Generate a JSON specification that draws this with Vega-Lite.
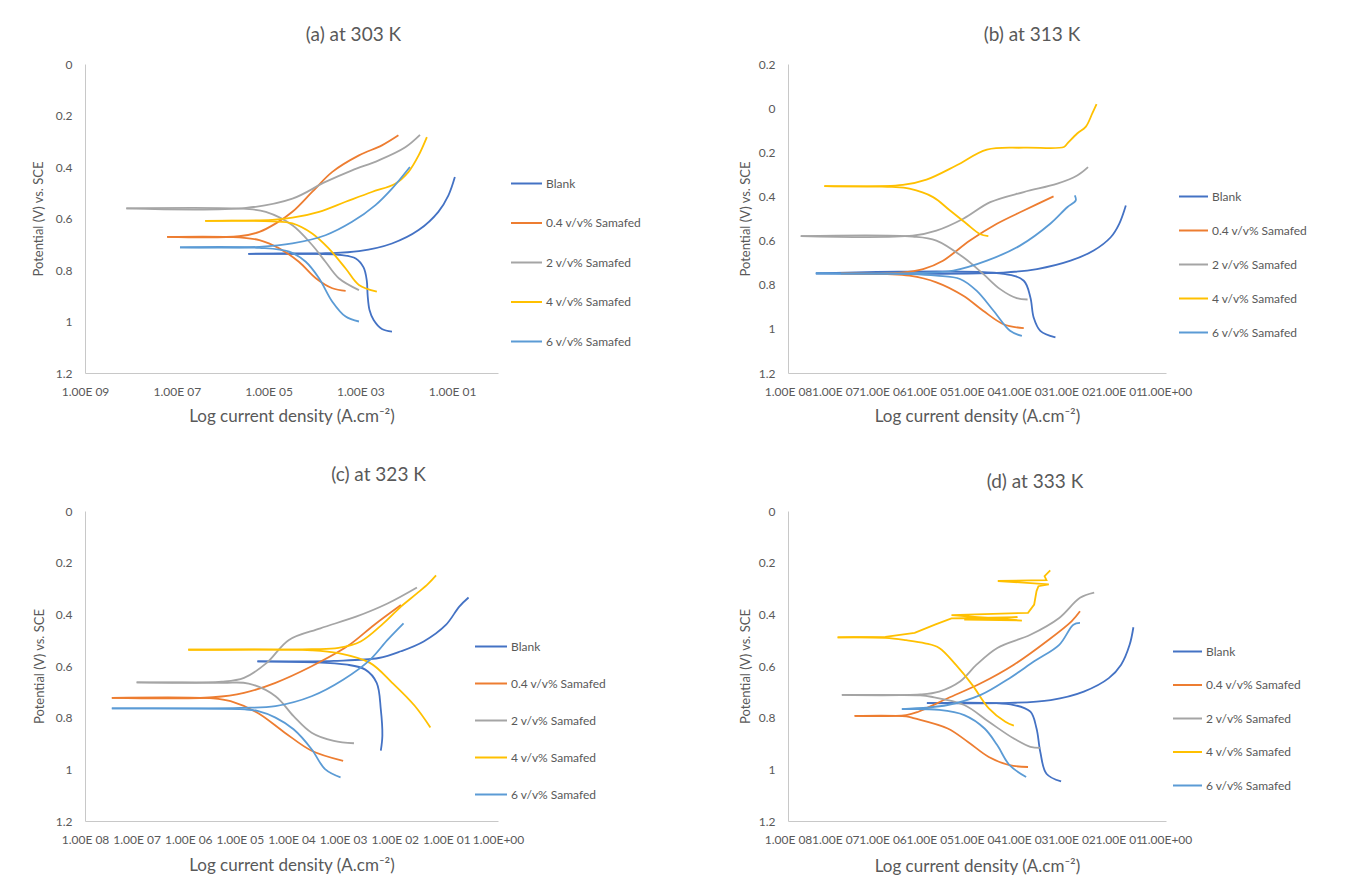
{
"$schema": "https://vega.github.io/schema/vega-lite/v6.json",
"background": "white",
"padding": {"left": 32, "top": 26, "right": 5, "bottom": 5},
"data": {"values": [
{"p":"a","s":"Blank","b":"c","x":-5.44,"y":-0.737},{"p":"a","s":"Blank","b":"c","x":-3.40,"y":-0.742},{"p":"a","s":"Blank","b":"c","x":-3.10,"y":-0.755},{"p":"a","s":"Blank","b":"c","x":-2.93,"y":-0.790},{"p":"a","s":"Blank","b":"c","x":-2.86,"y":-0.840},{"p":"a","s":"Blank","b":"c","x":-2.84,"y":-0.900},{"p":"a","s":"Blank","b":"c","x":-2.80,"y":-0.955},{"p":"a","s":"Blank","b":"c","x":-2.71,"y":-0.994},{"p":"a","s":"Blank","b":"c","x":-2.53,"y":-1.029},{"p":"a","s":"Blank","b":"c","x":-2.31,"y":-1.039},
{"p":"a","s":"Blank","b":"a","x":-5.44,"y":-0.737},{"p":"a","s":"Blank","b":"a","x":-3.76,"y":-0.735},{"p":"a","s":"Blank","b":"a","x":-3.03,"y":-0.727},{"p":"a","s":"Blank","b":"a","x":-2.31,"y":-0.697},{"p":"a","s":"Blank","b":"a","x":-1.73,"y":-0.645},{"p":"a","s":"Blank","b":"a","x":-1.30,"y":-0.574},{"p":"a","s":"Blank","b":"a","x":-1.08,"y":-0.510},{"p":"a","s":"Blank","b":"a","x":-0.94,"y":-0.439},
{"p":"a","s":"0.4 v/v% Samafed","b":"c","x":-7.21,"y":-0.671},{"p":"a","s":"0.4 v/v% Samafed","b":"c","x":-5.64,"y":-0.673},{"p":"a","s":"0.4 v/v% Samafed","b":"c","x":-5.20,"y":-0.684},{"p":"a","s":"0.4 v/v% Samafed","b":"c","x":-4.77,"y":-0.716},{"p":"a","s":"0.4 v/v% Samafed","b":"c","x":-4.34,"y":-0.768},{"p":"a","s":"0.4 v/v% Samafed","b":"c","x":-3.97,"y":-0.832},{"p":"a","s":"0.4 v/v% Samafed","b":"c","x":-3.61,"y":-0.871},{"p":"a","s":"0.4 v/v% Samafed","b":"c","x":-3.32,"y":-0.881},
{"p":"a","s":"0.4 v/v% Samafed","b":"a","x":-7.21,"y":-0.671},{"p":"a","s":"0.4 v/v% Samafed","b":"a","x":-5.64,"y":-0.669},{"p":"a","s":"0.4 v/v% Samafed","b":"a","x":-5.20,"y":-0.652},{"p":"a","s":"0.4 v/v% Samafed","b":"a","x":-4.84,"y":-0.619},{"p":"a","s":"0.4 v/v% Samafed","b":"a","x":-4.48,"y":-0.574},{"p":"a","s":"0.4 v/v% Samafed","b":"a","x":-4.05,"y":-0.497},{"p":"a","s":"0.4 v/v% Samafed","b":"a","x":-3.61,"y":-0.419},{"p":"a","s":"0.4 v/v% Samafed","b":"a","x":-3.03,"y":-0.355},{"p":"a","s":"0.4 v/v% Samafed","b":"a","x":-2.53,"y":-0.316},{"p":"a","s":"0.4 v/v% Samafed","b":"a","x":-2.17,"y":-0.277},
{"p":"a","s":"2 v/v% Samafed","b":"c","x":-8.10,"y":-0.561},{"p":"a","s":"2 v/v% Samafed","b":"c","x":-5.49,"y":-0.563},{"p":"a","s":"2 v/v% Samafed","b":"c","x":-5.06,"y":-0.574},{"p":"a","s":"2 v/v% Samafed","b":"c","x":-4.48,"y":-0.626},{"p":"a","s":"2 v/v% Samafed","b":"c","x":-4.05,"y":-0.703},{"p":"a","s":"2 v/v% Samafed","b":"c","x":-3.76,"y":-0.768},{"p":"a","s":"2 v/v% Samafed","b":"c","x":-3.47,"y":-0.832},{"p":"a","s":"2 v/v% Samafed","b":"c","x":-3.03,"y":-0.878},
{"p":"a","s":"2 v/v% Samafed","b":"a","x":-8.10,"y":-0.561},{"p":"a","s":"2 v/v% Samafed","b":"a","x":-5.49,"y":-0.559},{"p":"a","s":"2 v/v% Samafed","b":"a","x":-4.48,"y":-0.523},{"p":"a","s":"2 v/v% Samafed","b":"a","x":-3.76,"y":-0.458},{"p":"a","s":"2 v/v% Samafed","b":"a","x":-3.18,"y":-0.413},{"p":"a","s":"2 v/v% Samafed","b":"a","x":-2.60,"y":-0.374},{"p":"a","s":"2 v/v% Samafed","b":"a","x":-2.02,"y":-0.323},{"p":"a","s":"2 v/v% Samafed","b":"a","x":-1.70,"y":-0.275},
{"p":"a","s":"4 v/v% Samafed","b":"c","x":-6.38,"y":-0.609},{"p":"a","s":"4 v/v% Samafed","b":"c","x":-4.92,"y":-0.611},{"p":"a","s":"4 v/v% Samafed","b":"c","x":-4.48,"y":-0.619},{"p":"a","s":"4 v/v% Samafed","b":"c","x":-4.05,"y":-0.658},{"p":"a","s":"4 v/v% Samafed","b":"c","x":-3.69,"y":-0.716},{"p":"a","s":"4 v/v% Samafed","b":"c","x":-3.32,"y":-0.794},{"p":"a","s":"4 v/v% Samafed","b":"c","x":-3.03,"y":-0.858},{"p":"a","s":"4 v/v% Samafed","b":"c","x":-2.64,"y":-0.884},
{"p":"a","s":"4 v/v% Samafed","b":"a","x":-6.38,"y":-0.609},{"p":"a","s":"4 v/v% Samafed","b":"a","x":-4.92,"y":-0.605},{"p":"a","s":"4 v/v% Samafed","b":"a","x":-4.48,"y":-0.597},{"p":"a","s":"4 v/v% Samafed","b":"a","x":-3.90,"y":-0.574},{"p":"a","s":"4 v/v% Samafed","b":"a","x":-3.32,"y":-0.535},{"p":"a","s":"4 v/v% Samafed","b":"a","x":-2.75,"y":-0.497},{"p":"a","s":"4 v/v% Samafed","b":"a","x":-2.24,"y":-0.465},{"p":"a","s":"4 v/v% Samafed","b":"a","x":-1.95,"y":-0.419},{"p":"a","s":"4 v/v% Samafed","b":"a","x":-1.73,"y":-0.355},{"p":"a","s":"4 v/v% Samafed","b":"a","x":-1.55,"y":-0.284},
{"p":"a","s":"6 v/v% Samafed","b":"c","x":-6.93,"y":-0.712},{"p":"a","s":"6 v/v% Samafed","b":"c","x":-5.20,"y":-0.714},{"p":"a","s":"6 v/v% Samafed","b":"c","x":-4.55,"y":-0.729},{"p":"a","s":"6 v/v% Samafed","b":"c","x":-4.19,"y":-0.768},{"p":"a","s":"6 v/v% Samafed","b":"c","x":-3.90,"y":-0.832},{"p":"a","s":"6 v/v% Samafed","b":"c","x":-3.61,"y":-0.923},{"p":"a","s":"6 v/v% Samafed","b":"c","x":-3.32,"y":-0.981},{"p":"a","s":"6 v/v% Samafed","b":"c","x":-3.03,"y":-1.000},
{"p":"a","s":"6 v/v% Samafed","b":"a","x":-6.93,"y":-0.712},{"p":"a","s":"6 v/v% Samafed","b":"a","x":-5.20,"y":-0.710},{"p":"a","s":"6 v/v% Samafed","b":"a","x":-4.48,"y":-0.697},{"p":"a","s":"6 v/v% Samafed","b":"a","x":-3.76,"y":-0.665},{"p":"a","s":"6 v/v% Samafed","b":"a","x":-3.18,"y":-0.613},{"p":"a","s":"6 v/v% Samafed","b":"a","x":-2.67,"y":-0.548},{"p":"a","s":"6 v/v% Samafed","b":"a","x":-2.31,"y":-0.484},{"p":"a","s":"6 v/v% Samafed","b":"a","x":-1.92,"y":-0.400},

{"p":"b","s":"Blank","b":"c","x":-7.41,"y":-0.749},{"p":"b","s":"Blank","b":"c","x":-3.44,"y":-0.751},{"p":"b","s":"Blank","b":"c","x":-3.01,"y":-0.782},{"p":"b","s":"Blank","b":"c","x":-2.87,"y":-0.858},{"p":"b","s":"Blank","b":"c","x":-2.80,"y":-0.949},{"p":"b","s":"Blank","b":"c","x":-2.66,"y":-1.009},{"p":"b","s":"Blank","b":"c","x":-2.34,"y":-1.039},
{"p":"b","s":"Blank","b":"a","x":-7.41,"y":-0.749},{"p":"b","s":"Blank","b":"a","x":-3.44,"y":-0.745},{"p":"b","s":"Blank","b":"a","x":-2.73,"y":-0.729},{"p":"b","s":"Blank","b":"a","x":-2.02,"y":-0.691},{"p":"b","s":"Blank","b":"a","x":-1.53,"y":-0.645},{"p":"b","s":"Blank","b":"a","x":-1.17,"y":-0.585},{"p":"b","s":"Blank","b":"a","x":-0.99,"y":-0.524},{"p":"b","s":"Blank","b":"a","x":-0.85,"y":-0.441},
{"p":"b","s":"0.4 v/v% Samafed","b":"c","x":-6.88,"y":-0.749},{"p":"b","s":"0.4 v/v% Samafed","b":"c","x":-5.90,"y":-0.752},{"p":"b","s":"0.4 v/v% Samafed","b":"c","x":-5.43,"y":-0.759},{"p":"b","s":"0.4 v/v% Samafed","b":"c","x":-4.86,"y":-0.789},{"p":"b","s":"0.4 v/v% Samafed","b":"c","x":-4.29,"y":-0.850},{"p":"b","s":"0.4 v/v% Samafed","b":"c","x":-3.87,"y":-0.918},{"p":"b","s":"0.4 v/v% Samafed","b":"c","x":-3.44,"y":-0.979},{"p":"b","s":"0.4 v/v% Samafed","b":"c","x":-3.01,"y":-0.997},
{"p":"b","s":"0.4 v/v% Samafed","b":"a","x":-6.88,"y":-0.749},{"p":"b","s":"0.4 v/v% Samafed","b":"a","x":-5.60,"y":-0.745},{"p":"b","s":"0.4 v/v% Samafed","b":"a","x":-5.14,"y":-0.729},{"p":"b","s":"0.4 v/v% Samafed","b":"a","x":-4.72,"y":-0.691},{"p":"b","s":"0.4 v/v% Samafed","b":"a","x":-4.15,"y":-0.600},{"p":"b","s":"0.4 v/v% Samafed","b":"a","x":-3.58,"y":-0.524},{"p":"b","s":"0.4 v/v% Samafed","b":"a","x":-3.01,"y":-0.464},{"p":"b","s":"0.4 v/v% Samafed","b":"a","x":-2.38,"y":-0.400},
{"p":"b","s":"2 v/v% Samafed","b":"c","x":-7.73,"y":-0.580},{"p":"b","s":"2 v/v% Samafed","b":"c","x":-5.36,"y":-0.582},{"p":"b","s":"2 v/v% Samafed","b":"c","x":-4.86,"y":-0.600},{"p":"b","s":"2 v/v% Samafed","b":"c","x":-4.29,"y":-0.676},{"p":"b","s":"2 v/v% Samafed","b":"c","x":-3.87,"y":-0.751},{"p":"b","s":"2 v/v% Samafed","b":"c","x":-3.51,"y":-0.820},{"p":"b","s":"2 v/v% Samafed","b":"c","x":-3.16,"y":-0.861},{"p":"b","s":"2 v/v% Samafed","b":"c","x":-2.93,"y":-0.867},
{"p":"b","s":"2 v/v% Samafed","b":"a","x":-7.73,"y":-0.580},{"p":"b","s":"2 v/v% Samafed","b":"a","x":-5.36,"y":-0.578},{"p":"b","s":"2 v/v% Samafed","b":"a","x":-4.86,"y":-0.555},{"p":"b","s":"2 v/v% Samafed","b":"a","x":-4.29,"y":-0.501},{"p":"b","s":"2 v/v% Samafed","b":"a","x":-3.72,"y":-0.426},{"p":"b","s":"2 v/v% Samafed","b":"a","x":-3.01,"y":-0.380},{"p":"b","s":"2 v/v% Samafed","b":"a","x":-2.30,"y":-0.342},{"p":"b","s":"2 v/v% Samafed","b":"a","x":-1.88,"y":-0.305},{"p":"b","s":"2 v/v% Samafed","b":"a","x":-1.65,"y":-0.267},
{"p":"b","s":"4 v/v% Samafed","b":"c","x":-7.23,"y":-0.353},{"p":"b","s":"4 v/v% Samafed","b":"c","x":-5.80,"y":-0.357},{"p":"b","s":"4 v/v% Samafed","b":"c","x":-5.43,"y":-0.365},{"p":"b","s":"4 v/v% Samafed","b":"c","x":-4.93,"y":-0.403},{"p":"b","s":"4 v/v% Samafed","b":"c","x":-4.57,"y":-0.464},{"p":"b","s":"4 v/v% Samafed","b":"c","x":-4.22,"y":-0.524},{"p":"b","s":"4 v/v% Samafed","b":"c","x":-3.94,"y":-0.570},{"p":"b","s":"4 v/v% Samafed","b":"c","x":-3.76,"y":-0.580},
{"p":"b","s":"4 v/v% Samafed","b":"a","x":-7.23,"y":-0.353},{"p":"b","s":"4 v/v% Samafed","b":"a","x":-5.57,"y":-0.348},{"p":"b","s":"4 v/v% Samafed","b":"a","x":-5.07,"y":-0.324},{"p":"b","s":"4 v/v% Samafed","b":"a","x":-4.43,"y":-0.259},{"p":"b","s":"4 v/v% Samafed","b":"a","x":-3.79,"y":-0.188},{"p":"b","s":"4 v/v% Samafed","b":"a","x":-3.01,"y":-0.179},{"p":"b","s":"4 v/v% Samafed","b":"a","x":-2.16,"y":-0.176},{"p":"b","s":"4 v/v% Samafed","b":"a","x":-2.09,"y":-0.161},{"p":"b","s":"4 v/v% Samafed","b":"a","x":-1.88,"y":-0.115},{"p":"b","s":"4 v/v% Samafed","b":"a","x":-1.70,"y":-0.085},{"p":"b","s":"4 v/v% Samafed","b":"a","x":-1.56,"y":-0.024},{"p":"b","s":"4 v/v% Samafed","b":"a","x":-1.47,"y":0.018},
{"p":"b","s":"6 v/v% Samafed","b":"c","x":-7.41,"y":-0.749},{"p":"b","s":"6 v/v% Samafed","b":"c","x":-5.40,"y":-0.752},{"p":"b","s":"6 v/v% Samafed","b":"c","x":-4.86,"y":-0.759},{"p":"b","s":"6 v/v% Samafed","b":"c","x":-4.36,"y":-0.774},{"p":"b","s":"6 v/v% Samafed","b":"c","x":-4.01,"y":-0.827},{"p":"b","s":"6 v/v% Samafed","b":"c","x":-3.65,"y":-0.918},{"p":"b","s":"6 v/v% Samafed","b":"c","x":-3.30,"y":-1.009},{"p":"b","s":"6 v/v% Samafed","b":"c","x":-3.05,"y":-1.032},
{"p":"b","s":"6 v/v% Samafed","b":"a","x":-7.41,"y":-0.749},{"p":"b","s":"6 v/v% Samafed","b":"a","x":-5.20,"y":-0.747},{"p":"b","s":"6 v/v% Samafed","b":"a","x":-4.50,"y":-0.736},{"p":"b","s":"6 v/v% Samafed","b":"a","x":-3.79,"y":-0.691},{"p":"b","s":"6 v/v% Samafed","b":"a","x":-3.09,"y":-0.623},{"p":"b","s":"6 v/v% Samafed","b":"a","x":-2.45,"y":-0.524},{"p":"b","s":"6 v/v% Samafed","b":"a","x":-2.09,"y":-0.449},{"p":"b","s":"6 v/v% Samafed","b":"a","x":-1.91,"y":-0.418},{"p":"b","s":"6 v/v% Samafed","b":"a","x":-1.93,"y":-0.395},

{"p":"c","s":"Blank","b":"c","x":-4.66,"y":-0.582},{"p":"c","s":"Blank","b":"c","x":-2.92,"y":-0.595},{"p":"c","s":"Blank","b":"c","x":-2.57,"y":-0.614},{"p":"c","s":"Blank","b":"c","x":-2.35,"y":-0.665},{"p":"c","s":"Blank","b":"c","x":-2.27,"y":-0.768},{"p":"c","s":"Blank","b":"c","x":-2.24,"y":-0.870},{"p":"c","s":"Blank","b":"c","x":-2.27,"y":-0.928},
{"p":"c","s":"Blank","b":"a","x":-4.66,"y":-0.582},{"p":"c","s":"Blank","b":"a","x":-3.18,"y":-0.580},{"p":"c","s":"Blank","b":"a","x":-2.31,"y":-0.569},{"p":"c","s":"Blank","b":"a","x":-1.88,"y":-0.543},{"p":"c","s":"Blank","b":"a","x":-1.44,"y":-0.505},{"p":"c","s":"Blank","b":"a","x":-1.01,"y":-0.441},{"p":"c","s":"Blank","b":"a","x":-0.75,"y":-0.370},{"p":"c","s":"Blank","b":"a","x":-0.57,"y":-0.335},
{"p":"c","s":"0.4 v/v% Samafed","b":"c","x":-7.48,"y":-0.723},{"p":"c","s":"0.4 v/v% Samafed","b":"c","x":-5.52,"y":-0.725},{"p":"c","s":"0.4 v/v% Samafed","b":"c","x":-5.18,"y":-0.736},{"p":"c","s":"0.4 v/v% Samafed","b":"c","x":-4.66,"y":-0.781},{"p":"c","s":"0.4 v/v% Samafed","b":"c","x":-4.13,"y":-0.858},{"p":"c","s":"0.4 v/v% Samafed","b":"c","x":-3.61,"y":-0.928},{"p":"c","s":"0.4 v/v% Samafed","b":"c","x":-3.00,"y":-0.967},
{"p":"c","s":"0.4 v/v% Samafed","b":"a","x":-7.48,"y":-0.723},{"p":"c","s":"0.4 v/v% Samafed","b":"a","x":-5.52,"y":-0.721},{"p":"c","s":"0.4 v/v% Samafed","b":"a","x":-4.92,"y":-0.704},{"p":"c","s":"0.4 v/v% Samafed","b":"a","x":-4.31,"y":-0.665},{"p":"c","s":"0.4 v/v% Samafed","b":"a","x":-3.61,"y":-0.601},{"p":"c","s":"0.4 v/v% Samafed","b":"a","x":-2.92,"y":-0.524},{"p":"c","s":"0.4 v/v% Samafed","b":"a","x":-2.40,"y":-0.441},{"p":"c","s":"0.4 v/v% Samafed","b":"a","x":-1.88,"y":-0.364},
{"p":"c","s":"2 v/v% Samafed","b":"c","x":-7.00,"y":-0.663},{"p":"c","s":"2 v/v% Samafed","b":"c","x":-5.35,"y":-0.665},{"p":"c","s":"2 v/v% Samafed","b":"c","x":-4.83,"y":-0.668},{"p":"c","s":"2 v/v% Samafed","b":"c","x":-4.31,"y":-0.717},{"p":"c","s":"2 v/v% Samafed","b":"c","x":-3.96,"y":-0.794},{"p":"c","s":"2 v/v% Samafed","b":"c","x":-3.61,"y":-0.858},{"p":"c","s":"2 v/v% Samafed","b":"c","x":-3.18,"y":-0.890},{"p":"c","s":"2 v/v% Samafed","b":"c","x":-2.79,"y":-0.899},
{"p":"c","s":"2 v/v% Samafed","b":"a","x":-7.00,"y":-0.663},{"p":"c","s":"2 v/v% Samafed","b":"a","x":-5.35,"y":-0.661},{"p":"c","s":"2 v/v% Samafed","b":"a","x":-4.92,"y":-0.646},{"p":"c","s":"2 v/v% Samafed","b":"a","x":-4.48,"y":-0.588},{"p":"c","s":"2 v/v% Samafed","b":"a","x":-4.05,"y":-0.499},{"p":"c","s":"2 v/v% Samafed","b":"a","x":-3.44,"y":-0.454},{"p":"c","s":"2 v/v% Samafed","b":"a","x":-2.75,"y":-0.409},{"p":"c","s":"2 v/v% Samafed","b":"a","x":-2.14,"y":-0.358},{"p":"c","s":"2 v/v% Samafed","b":"a","x":-1.57,"y":-0.296},
{"p":"c","s":"4 v/v% Samafed","b":"c","x":-6.00,"y":-0.537},{"p":"c","s":"4 v/v% Samafed","b":"c","x":-3.61,"y":-0.539},{"p":"c","s":"4 v/v% Samafed","b":"c","x":-3.09,"y":-0.550},{"p":"c","s":"4 v/v% Samafed","b":"c","x":-2.48,"y":-0.588},{"p":"c","s":"4 v/v% Samafed","b":"c","x":-2.05,"y":-0.665},{"p":"c","s":"4 v/v% Samafed","b":"c","x":-1.61,"y":-0.755},{"p":"c","s":"4 v/v% Samafed","b":"c","x":-1.31,"y":-0.838},
{"p":"c","s":"4 v/v% Samafed","b":"a","x":-6.00,"y":-0.537},{"p":"c","s":"4 v/v% Samafed","b":"a","x":-3.61,"y":-0.535},{"p":"c","s":"4 v/v% Samafed","b":"a","x":-3.09,"y":-0.530},{"p":"c","s":"4 v/v% Samafed","b":"a","x":-2.66,"y":-0.505},{"p":"c","s":"4 v/v% Samafed","b":"a","x":-2.22,"y":-0.435},{"p":"c","s":"4 v/v% Samafed","b":"a","x":-1.88,"y":-0.370},{"p":"c","s":"4 v/v% Samafed","b":"a","x":-1.57,"y":-0.319},{"p":"c","s":"4 v/v% Samafed","b":"a","x":-1.35,"y":-0.281},{"p":"c","s":"4 v/v% Samafed","b":"a","x":-1.20,"y":-0.249},
{"p":"c","s":"6 v/v% Samafed","b":"c","x":-7.48,"y":-0.764},{"p":"c","s":"6 v/v% Samafed","b":"c","x":-4.90,"y":-0.768},{"p":"c","s":"6 v/v% Samafed","b":"c","x":-4.66,"y":-0.774},{"p":"c","s":"6 v/v% Samafed","b":"c","x":-4.31,"y":-0.800},{"p":"c","s":"6 v/v% Samafed","b":"c","x":-3.96,"y":-0.845},{"p":"c","s":"6 v/v% Samafed","b":"c","x":-3.61,"y":-0.922},{"p":"c","s":"6 v/v% Samafed","b":"c","x":-3.35,"y":-0.999},{"p":"c","s":"6 v/v% Samafed","b":"c","x":-3.05,"y":-1.031},
{"p":"c","s":"6 v/v% Samafed","b":"a","x":-7.48,"y":-0.764},{"p":"c","s":"6 v/v% Samafed","b":"a","x":-5.00,"y":-0.762},{"p":"c","s":"6 v/v% Samafed","b":"a","x":-4.31,"y":-0.755},{"p":"c","s":"6 v/v% Samafed","b":"a","x":-3.61,"y":-0.717},{"p":"c","s":"6 v/v% Samafed","b":"a","x":-3.00,"y":-0.653},{"p":"c","s":"6 v/v% Samafed","b":"a","x":-2.48,"y":-0.576},{"p":"c","s":"6 v/v% Samafed","b":"a","x":-2.14,"y":-0.499},{"p":"c","s":"6 v/v% Samafed","b":"a","x":-1.83,"y":-0.435},

{"p":"d","s":"Blank","b":"c","x":-5.06,"y":-0.744},{"p":"d","s":"Blank","b":"c","x":-3.22,"y":-0.751},{"p":"d","s":"Blank","b":"c","x":-2.87,"y":-0.777},{"p":"d","s":"Blank","b":"c","x":-2.74,"y":-0.842},{"p":"d","s":"Blank","b":"c","x":-2.66,"y":-0.933},{"p":"d","s":"Blank","b":"c","x":-2.53,"y":-1.017},{"p":"d","s":"Blank","b":"c","x":-2.22,"y":-1.047},
{"p":"d","s":"Blank","b":"a","x":-5.06,"y":-0.744},{"p":"d","s":"Blank","b":"a","x":-3.31,"y":-0.743},{"p":"d","s":"Blank","b":"a","x":-2.44,"y":-0.732},{"p":"d","s":"Blank","b":"a","x":-1.74,"y":-0.699},{"p":"d","s":"Blank","b":"a","x":-1.21,"y":-0.647},{"p":"d","s":"Blank","b":"a","x":-0.95,"y":-0.595},{"p":"d","s":"Blank","b":"a","x":-0.77,"y":-0.518},{"p":"d","s":"Blank","b":"a","x":-0.69,"y":-0.450},
{"p":"d","s":"0.4 v/v% Samafed","b":"c","x":-6.59,"y":-0.793},{"p":"d","s":"0.4 v/v% Samafed","b":"c","x":-5.50,"y":-0.795},{"p":"d","s":"0.4 v/v% Samafed","b":"c","x":-5.32,"y":-0.803},{"p":"d","s":"0.4 v/v% Samafed","b":"c","x":-4.62,"y":-0.842},{"p":"d","s":"0.4 v/v% Samafed","b":"c","x":-4.19,"y":-0.894},{"p":"d","s":"0.4 v/v% Samafed","b":"c","x":-3.75,"y":-0.952},{"p":"d","s":"0.4 v/v% Samafed","b":"c","x":-3.31,"y":-0.984},{"p":"d","s":"0.4 v/v% Samafed","b":"c","x":-2.92,"y":-0.991},
{"p":"d","s":"0.4 v/v% Samafed","b":"a","x":-6.59,"y":-0.793},{"p":"d","s":"0.4 v/v% Samafed","b":"a","x":-5.50,"y":-0.790},{"p":"d","s":"0.4 v/v% Samafed","b":"a","x":-5.24,"y":-0.777},{"p":"d","s":"0.4 v/v% Samafed","b":"a","x":-4.62,"y":-0.725},{"p":"d","s":"0.4 v/v% Samafed","b":"a","x":-3.92,"y":-0.667},{"p":"d","s":"0.4 v/v% Samafed","b":"a","x":-3.22,"y":-0.595},{"p":"d","s":"0.4 v/v% Samafed","b":"a","x":-2.53,"y":-0.505},{"p":"d","s":"0.4 v/v% Samafed","b":"a","x":-2.00,"y":-0.427},{"p":"d","s":"0.4 v/v% Samafed","b":"a","x":-1.82,"y":-0.388},
{"p":"d","s":"2 v/v% Samafed","b":"c","x":-6.86,"y":-0.712},{"p":"d","s":"2 v/v% Samafed","b":"c","x":-5.20,"y":-0.714},{"p":"d","s":"2 v/v% Samafed","b":"c","x":-4.97,"y":-0.719},{"p":"d","s":"2 v/v% Samafed","b":"c","x":-4.27,"y":-0.751},{"p":"d","s":"2 v/v% Samafed","b":"c","x":-3.75,"y":-0.816},{"p":"d","s":"2 v/v% Samafed","b":"c","x":-3.22,"y":-0.881},{"p":"d","s":"2 v/v% Samafed","b":"c","x":-2.87,"y":-0.913},{"p":"d","s":"2 v/v% Samafed","b":"c","x":-2.66,"y":-0.917},
{"p":"d","s":"2 v/v% Samafed","b":"a","x":-6.86,"y":-0.712},{"p":"d","s":"2 v/v% Samafed","b":"a","x":-5.20,"y":-0.710},{"p":"d","s":"2 v/v% Samafed","b":"a","x":-4.80,"y":-0.699},{"p":"d","s":"2 v/v% Samafed","b":"a","x":-4.36,"y":-0.660},{"p":"d","s":"2 v/v% Samafed","b":"a","x":-4.01,"y":-0.595},{"p":"d","s":"2 v/v% Samafed","b":"a","x":-3.57,"y":-0.530},{"p":"d","s":"2 v/v% Samafed","b":"a","x":-2.87,"y":-0.479},{"p":"d","s":"2 v/v% Samafed","b":"a","x":-2.26,"y":-0.414},{"p":"d","s":"2 v/v% Samafed","b":"a","x":-1.82,"y":-0.336},{"p":"d","s":"2 v/v% Samafed","b":"a","x":-1.52,"y":-0.316},
{"p":"d","s":"4 v/v% Samafed","b":"c","x":-6.95,"y":-0.489},{"p":"d","s":"4 v/v% Samafed","b":"c","x":-5.94,"y":-0.491},{"p":"d","s":"4 v/v% Samafed","b":"c","x":-5.50,"y":-0.500},{"p":"d","s":"4 v/v% Samafed","b":"c","x":-5.10,"y":-0.512},{"p":"d","s":"4 v/v% Samafed","b":"c","x":-4.80,"y":-0.530},{"p":"d","s":"4 v/v% Samafed","b":"c","x":-4.45,"y":-0.595},{"p":"d","s":"4 v/v% Samafed","b":"c","x":-4.10,"y":-0.673},{"p":"d","s":"4 v/v% Samafed","b":"c","x":-3.75,"y":-0.764},{"p":"d","s":"4 v/v% Samafed","b":"c","x":-3.40,"y":-0.816},{"p":"d","s":"4 v/v% Samafed","b":"c","x":-3.22,"y":-0.831},
{"p":"d","s":"4 v/v% Samafed","b":"z","x":-6.95,"y":-0.489},{"p":"d","s":"4 v/v% Samafed","b":"z","x":-5.94,"y":-0.487},{"p":"d","s":"4 v/v% Samafed","b":"z","x":-5.32,"y":-0.472},{"p":"d","s":"4 v/v% Samafed","b":"z","x":-4.89,"y":-0.440},{"p":"d","s":"4 v/v% Samafed","b":"z","x":-4.54,"y":-0.416},{"p":"d","s":"4 v/v% Samafed","b":"z","x":-3.14,"y":-0.411},{"p":"d","s":"4 v/v% Samafed","b":"z","x":-4.27,"y":-0.420},{"p":"d","s":"4 v/v% Samafed","b":"z","x":-3.05,"y":-0.424},{"p":"d","s":"4 v/v% Samafed","b":"z","x":-4.54,"y":-0.403},{"p":"d","s":"4 v/v% Samafed","b":"z","x":-2.92,"y":-0.394},{"p":"d","s":"4 v/v% Samafed","b":"z","x":-2.79,"y":-0.362},{"p":"d","s":"4 v/v% Samafed","b":"z","x":-2.74,"y":-0.310},{"p":"d","s":"4 v/v% Samafed","b":"z","x":-2.70,"y":-0.291},{"p":"d","s":"4 v/v% Samafed","b":"z","x":-2.48,"y":-0.284},{"p":"d","s":"4 v/v% Samafed","b":"z","x":-3.56,"y":-0.271},{"p":"d","s":"4 v/v% Samafed","b":"z","x":-2.53,"y":-0.268},{"p":"d","s":"4 v/v% Samafed","b":"z","x":-2.57,"y":-0.252},{"p":"d","s":"4 v/v% Samafed","b":"z","x":-2.45,"y":-0.230},
{"p":"d","s":"6 v/v% Samafed","b":"c","x":-5.59,"y":-0.767},{"p":"d","s":"6 v/v% Samafed","b":"c","x":-4.80,"y":-0.770},{"p":"d","s":"6 v/v% Samafed","b":"c","x":-4.27,"y":-0.790},{"p":"d","s":"6 v/v% Samafed","b":"c","x":-3.84,"y":-0.842},{"p":"d","s":"6 v/v% Samafed","b":"c","x":-3.57,"y":-0.907},{"p":"d","s":"6 v/v% Samafed","b":"c","x":-3.31,"y":-0.984},{"p":"d","s":"6 v/v% Samafed","b":"c","x":-2.96,"y":-1.030},
{"p":"d","s":"6 v/v% Samafed","b":"a","x":-5.59,"y":-0.767},{"p":"d","s":"6 v/v% Samafed","b":"a","x":-4.62,"y":-0.751},{"p":"d","s":"6 v/v% Samafed","b":"a","x":-3.92,"y":-0.712},{"p":"d","s":"6 v/v% Samafed","b":"a","x":-3.31,"y":-0.647},{"p":"d","s":"6 v/v% Samafed","b":"a","x":-2.79,"y":-0.582},{"p":"d","s":"6 v/v% Samafed","b":"a","x":-2.26,"y":-0.518},{"p":"d","s":"6 v/v% Samafed","b":"a","x":-1.96,"y":-0.440},{"p":"d","s":"6 v/v% Samafed","b":"a","x":-1.82,"y":-0.433}
]},
"columns": 2,
"bounds": "flush",
"align": "each",
"spacing": {"row": 138, "column": 290},
"resolve": {"scale": {"color": "independent"}, "legend": {"color": "independent"}},
"concat": [
{
 "width": 413, "height": 309,
 "title": {"text": "(a) at 303 K", "dx": 62, "offset": 13},
 "transform": [{"filter": "datum.p == 'a'"}],
 "mark": {"type": "line", "interpolate": "catmull-rom", "strokeWidth": 1.8},
 "encoding": {
  "x": {"field": "x", "type": "quantitative", "scale": {"domain": [-9, 0], "nice": false, "zero": false},
        "axis": {"values": [-9, -7, -5, -3, -1], "labelExpr": "datum.value == 0 ? '1.00E+00' : '1.00E ' + format(abs(datum.value), '02d')", "title": "Log current density (A.cm⁻²)", "titleY": 43}},
  "y": {"field": "y", "type": "quantitative", "scale": {"domain": [-1.2, 0], "nice": false, "zero": false},
        "axis": {"values": [-1.2, -1, -0.8, -0.6, -0.4, -0.2, 0], "labelExpr": "format(abs(datum.value), '~g')", "title": "Potential (V) vs. SCE", "titleX": -47}},
  "color": {"field": "s", "type": "nominal",
            "scale": {"domain": ["Blank", "0.4 v/v% Samafed", "2 v/v% Samafed", "4 v/v% Samafed", "6 v/v% Samafed"], "range": ["#4472C4", "#ED7D31", "#A5A5A5", "#FFC000", "#5B9BD5"]},
            "legend": {"orient": "none", "legendX": 425, "legendY": 103, "title": null, "symbolSize": 961, "rowPadding": 16.5}},
  "detail": {"field": "b"},
  "order": {"value": null}
 }
},
{
 "width": 378, "height": 309,
 "title": {"text": "(b) at 313 K", "dx": 55, "offset": 13},
 "transform": [{"filter": "datum.p == 'b'"}],
 "mark": {"type": "line", "interpolate": "catmull-rom", "strokeWidth": 1.8},
 "encoding": {
  "x": {"field": "x", "type": "quantitative", "scale": {"domain": [-8, 0], "nice": false, "zero": false},
        "axis": {"values": [-8, -7, -6, -5, -4, -3, -2, -1, 0], "labelExpr": "datum.value == 0 ? '1.00E+00' : '1.00E ' + format(abs(datum.value), '02d')", "title": "Log current density (A.cm⁻²)", "titleY": 43}},
  "y": {"field": "y", "type": "quantitative", "scale": {"domain": [-1.2, 0.2], "nice": false, "zero": false},
        "axis": {"values": [-1.2, -1, -0.8, -0.6, -0.4, -0.2, 0, 0.2], "labelExpr": "format(abs(datum.value), '~g')", "title": "Potential (V) vs. SCE", "titleX": -43}},
  "color": {"field": "s", "type": "nominal",
            "scale": {"domain": ["Blank", "0.4 v/v% Samafed", "2 v/v% Samafed", "4 v/v% Samafed", "6 v/v% Samafed"], "range": ["#4472C4", "#ED7D31", "#A5A5A5", "#FFC000", "#5B9BD5"]},
            "legend": {"orient": "none", "legendX": 390, "legendY": 117, "title": null, "symbolSize": 841, "rowPadding": 12}},
  "detail": {"field": "b"},
  "order": {"value": null}
 }
},
{
 "width": 413, "height": 310,
 "title": {"text": "(c) at 323 K", "dx": 87, "offset": 20},
 "transform": [{"filter": "datum.p == 'c'"}],
 "mark": {"type": "line", "interpolate": "catmull-rom", "strokeWidth": 1.8},
 "encoding": {
  "x": {"field": "x", "type": "quantitative", "scale": {"domain": [-8, 0], "nice": false, "zero": false},
        "axis": {"values": [-8, -7, -6, -5, -4, -3, -2, -1, 0], "labelExpr": "datum.value == 0 ? '1.00E+00' : '1.00E ' + format(abs(datum.value), '02d')", "title": "Log current density (A.cm⁻²)", "titleY": 44}},
  "y": {"field": "y", "type": "quantitative", "scale": {"domain": [-1.2, 0], "nice": false, "zero": false},
        "axis": {"values": [-1.2, -1, -0.8, -0.6, -0.4, -0.2, 0], "labelExpr": "format(abs(datum.value), '~g')", "title": "Potential (V) vs. SCE", "titleX": -46}},
  "color": {"field": "s", "type": "nominal",
            "scale": {"domain": ["Blank", "0.4 v/v% Samafed", "2 v/v% Samafed", "4 v/v% Samafed", "6 v/v% Samafed"], "range": ["#4472C4", "#ED7D31", "#A5A5A5", "#FFC000", "#5B9BD5"]},
            "legend": {"orient": "none", "legendX": 389, "legendY": 118.5, "title": null, "symbolSize": 1024, "rowPadding": 14}},
  "detail": {"field": "b"},
  "order": {"value": null}
 }
},
{
 "width": 378, "height": 310,
 "title": {"text": "(d) at 333 K", "dx": 58, "offset": 13},
 "transform": [{"filter": "datum.p == 'd'"}],
 "encoding": {
  "x": {"field": "x", "type": "quantitative", "scale": {"domain": [-8, 0], "nice": false, "zero": false},
        "axis": {"values": [-8, -7, -6, -5, -4, -3, -2, -1, 0], "labelExpr": "datum.value == 0 ? '1.00E+00' : '1.00E ' + format(abs(datum.value), '02d')", "title": "Log current density (A.cm⁻²)", "titleY": 45}},
  "y": {"field": "y", "type": "quantitative", "scale": {"domain": [-1.2, 0], "nice": false, "zero": false},
        "axis": {"values": [-1.2, -1, -0.8, -0.6, -0.4, -0.2, 0], "labelExpr": "format(abs(datum.value), '~g')", "title": "Potential (V) vs. SCE", "titleX": -43}},
  "color": {"field": "s", "type": "nominal",
            "scale": {"domain": ["Blank", "0.4 v/v% Samafed", "2 v/v% Samafed", "4 v/v% Samafed", "6 v/v% Samafed"], "range": ["#4472C4", "#ED7D31", "#A5A5A5", "#FFC000", "#5B9BD5"]},
            "legend": {"orient": "none", "legendX": 384, "legendY": 125, "title": null, "symbolSize": 841, "rowPadding": 11.5}},
  "detail": {"field": "b"},
  "order": {"value": null}
 },
 "layer": [
  {"transform": [{"filter": "datum.b != 'z'"}], "mark": {"type": "line", "interpolate": "catmull-rom", "strokeWidth": 1.8}},
  {"transform": [{"filter": "datum.b == 'z'"}], "mark": {"type": "line", "strokeWidth": 1.8}}
 ]
}
],
"config": {
 "font": "Lato",
 "view": {"stroke": null},
 "axis": {"grid": false, "ticks": false, "tickSize": 0, "domainColor": "#c8c8c8", "domainWidth": 1, "labelColor": "#595959", "titleColor": "#595959", "labelFont": "Lato", "titleFont": "Lato", "titleFontWeight": "normal", "labelFontSize": 12, "labelPadding": 13},
 "axisX": {"labelOverlap": false, "labelFlush": false, "labelBound": false, "titleFontSize": 17, "titleBaseline": "middle"},
 "axisY": {"titleFontSize": 13, "titleBaseline": "middle", "labelOverlap": false},
 "title": {"font": "Lato", "fontSize": 19, "fontWeight": "normal", "color": "#595959", "frame": "group", "anchor": "middle"},
 "legend": {"labelColor": "#595959", "labelFont": "Lato", "labelFontSize": 12, "symbolType": "stroke", "symbolStrokeWidth": 2, "labelOffset": 3}
}
}
